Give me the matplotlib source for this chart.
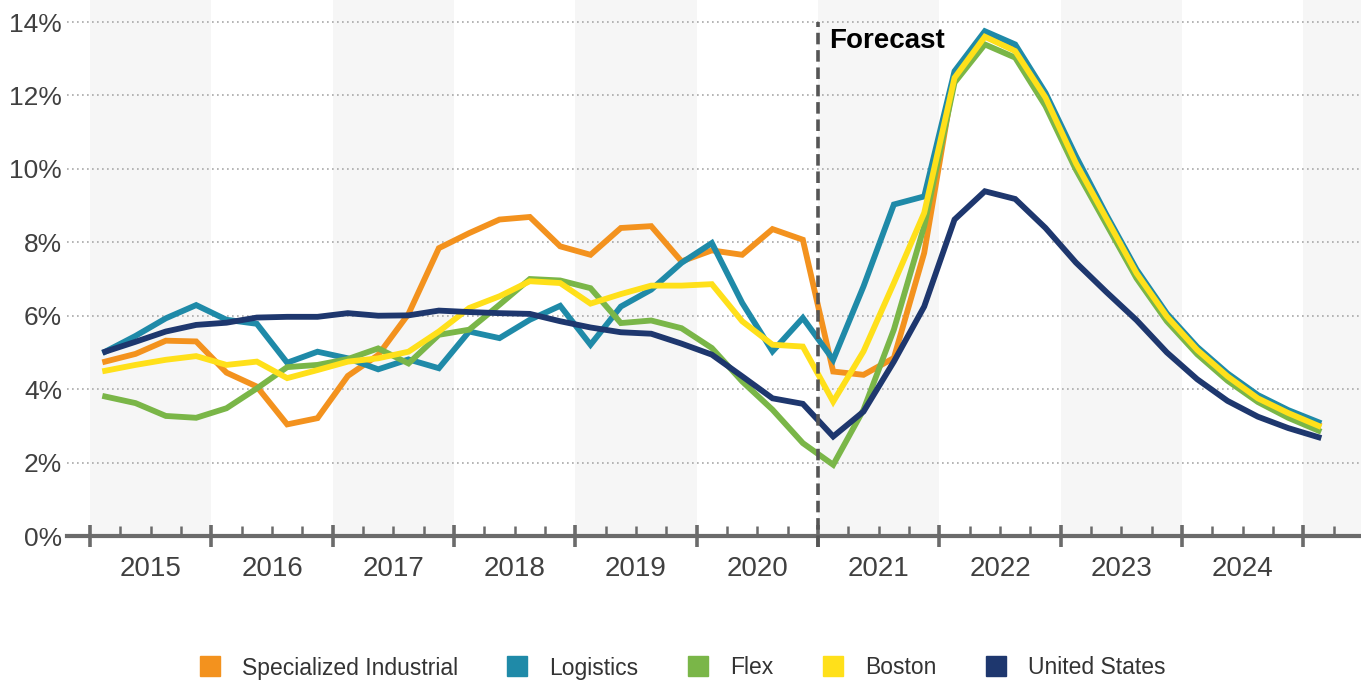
import numpy as np
import matplotlib
matplotlib.use("Agg")
import matplotlib.pyplot as plt
from matplotlib.lines import Line2D

plt.rcParams['font.family'] = ['Liberation Sans', 'DejaVu Sans']

# Donnees trimestrielles 2015 T1 -> 2025 T1 (41 points)
years = [2015, 2016, 2017, 2018, 2019, 2020, 2021, 2022, 2023, 2024]
n_quarters = 41
forecast_start = 24  # debut 2021

specialized = [4.75, 4.96, 5.32, 5.30, 4.45, 4.07, 3.04, 3.21, 4.36, 4.93,
               6.05, 7.84, 8.25, 8.62, 8.69, 7.89, 7.66, 8.39, 8.44, 7.48,
               7.78, 7.66, 8.36, 8.07, 4.48, 4.39, 4.85, 7.71, 12.57, 13.62,
               13.23, 11.96, 10.18, 8.67, 7.17, 5.98, 5.07, 4.35, 3.75, 3.34,
               3.02]
logistics = [5.02, 5.45, 5.93, 6.29, 5.89, 5.78, 4.72, 5.02, 4.84, 4.54,
             4.81, 4.57, 5.57, 5.39, 5.89, 6.27, 5.21, 6.25, 6.71, 7.44,
             7.98, 6.35, 5.03, 5.94, 4.80, 6.80, 9.03, 9.25, 12.66, 13.75,
             13.39, 12.07, 10.35, 8.76, 7.26, 6.06, 5.15, 4.43, 3.84, 3.43,
             3.10]
flex = [3.80, 3.62, 3.27, 3.22, 3.48, 4.02, 4.60, 4.66, 4.82, 5.11,
        4.70, 5.48, 5.62, 6.30, 7.00, 6.96, 6.75, 5.80, 5.87, 5.66,
        5.12, 4.21, 3.44, 2.53, 1.94, 3.44, 5.62, 8.44, 12.35, 13.39,
        13.03, 11.71, 9.98, 8.50, 7.02, 5.85, 4.95, 4.23, 3.65, 3.22,
        2.87]
boston = [4.50, 4.66, 4.80, 4.90, 4.66, 4.75, 4.30, 4.52, 4.75, 4.84,
          5.02, 5.57, 6.21, 6.53, 6.94, 6.89, 6.33, 6.59, 6.82, 6.82,
          6.86, 5.85, 5.21, 5.16, 3.66, 5.03, 6.89, 8.80, 12.48, 13.60,
          13.21, 11.94, 10.16, 8.66, 7.16, 5.98, 5.07, 4.35, 3.75, 3.35,
          3.00]
united_states = [5.02, 5.29, 5.57, 5.75, 5.81, 5.95, 5.97, 5.97, 6.07, 6.00,
                 6.01, 6.14, 6.10, 6.07, 6.05, 5.85, 5.68, 5.55, 5.51, 5.24,
                 4.94, 4.35, 3.75, 3.60, 2.71, 3.39, 4.75, 6.25, 8.62, 9.39,
                 9.18, 8.39, 7.45, 6.65, 5.88, 5.00, 4.27, 3.68, 3.25, 2.94,
                 2.69]

series = [
    ('Specialized Industrial', specialized, '#F3921E'),
    ('Logistics', logistics, '#1F8AA8'),
    ('Flex', flex, '#7AB648'),
    ('Boston', boston, '#FFE01A'),
    ('United States', united_states, '#1E376E'),
]

x = np.arange(n_quarters) + 0.5

fig = plt.figure(figsize=(13.61, 6.81), dpi=100)
ax = fig.add_axes([90 / 1361, 145 / 681, 1271 / 1361, 536 / 681])
ax.set_xlim(0, 41.9)
ax.set_ylim(0, 14.6)

# Bandes grises une annee sur deux
for k in range(0, 11, 2):
    ax.axvspan(4 * k, 4 * k + 4, color='#F6F6F6', lw=0, zorder=0)

# Grille pointillee
for v in range(2, 15, 2):
    ax.axhline(v, xmin=-0.018, xmax=1.0, color='#A8A8A8', lw=1.2,
               ls=(0, (1, 2)), clip_on=False, zorder=1)

# Courbes
for name, vals, col in series:
    ax.plot(x, vals, color=col, lw=4.2, solid_joinstyle='miter', zorder=3)

# Ligne de prevision
ax.plot([forecast_start, forecast_start], [-0.3, 14], color='#555555', lw=2.6,
        ls=(0, (3.2, 1.6)), clip_on=False, zorder=4)
ax.text(forecast_start + 0.35, 13.85, 'Forecast', fontsize=20, fontweight='bold',
        ha='left', va='top', color='black', zorder=5)

# Axe des x
for s in ['top', 'right', 'left', 'bottom']:
    ax.spines[s].set_visible(False)
ax.axhline(0, xmin=-0.018, xmax=1.0, color='#6B6B6B', lw=3, clip_on=False, zorder=2)

ax.set_xticks(np.arange(0, 41, 4))
ax.set_xticklabels([])
ax.set_xticks([q for q in range(1, 42) if q % 4 != 0], minor=True)
ax.tick_params(axis='x', which='major', direction='inout', length=16, width=2.6,
               color='#6B6B6B')
ax.tick_params(axis='x', which='minor', direction='in', length=7.5, width=1.8,
               color='#6B6B6B')
for i, yr in enumerate(years):
    ax.text(4 * i + 2, -0.55, str(yr), fontsize=20, color='#404040',
            ha='center', va='top')

ax.set_yticks(np.arange(0, 15, 2))
ax.set_yticklabels([f'{v}%' for v in range(0, 15, 2)], fontsize=19, color='#404040')
ax.tick_params(axis='y', length=0, pad=20)

# Legende
handles = [Line2D([], [], marker='s', ls='none', markersize=15, color=c)
           for _, _, c in series]
labels = [name for name, _, _ in series]
fig.legend(handles, labels, loc='center', bbox_to_anchor=(0.501, 13 / 681),
           ncol=5, frameon=False, fontsize=16.5, handlelength=1.0,
           handletextpad=0.9, columnspacing=2.1, labelcolor='#333333')

fig.savefig('out.png', dpi=100)
